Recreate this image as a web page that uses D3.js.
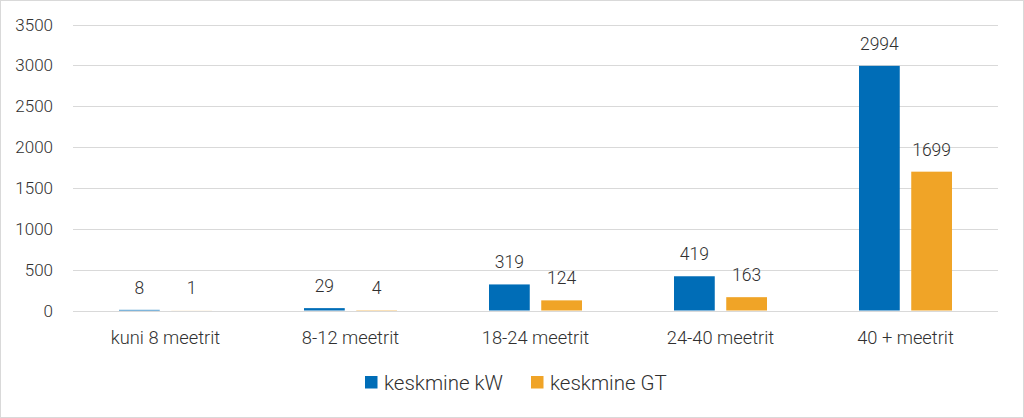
<!DOCTYPE html>
<html>
<head>
<meta charset="utf-8">
<script src="https://cdn.jsdelivr.net/npm/d3@7"></script>
<style>
  body { margin: 0; background: #fff; }
  svg text { font-family: Roboto, "Noto Sans", sans-serif; font-weight: 300; fill: #303030; }
</style>
</head>
<body>
<div id="chart"></div>
<script>
// Data
const categories = ["kuni 8 meetrit", "8-12 meetrit", "18-24 meetrit", "24-40 meetrit", "40 + meetrit"];
const seriesNames = ["keskmine kW", "keskmine GT"];
const kwValues = [8, 29, 319, 419, 2994];
const gtValues = [1, 4, 124, 163, 1699];
const yTicks = [0, 500, 1000, 1500, 2000, 2500, 3000, 3500];
const colors = ["#006db7", "#f0a427"];

const width = 1024;
const height = 418;
const margin = { top: 24.5, right: 26, bottom: 107.5, left: 73 };

const svg = d3.select("#chart")
  .append("svg")
  .attr("width", width)
  .attr("height", height);

// Chart border
svg.append("rect")
  .attr("x", 0.5).attr("y", 0.5)
  .attr("width", width - 1).attr("height", height - 1)
  .attr("fill", "#fff")
  .attr("stroke", "#d9d9d9");

const x0 = d3.scaleBand()
  .domain(categories)
  .range([margin.left, width - margin.right]);

const x1 = d3.scaleBand()
  .domain(seriesNames)
  .range([0, 93])
  .paddingInner(0.22);

const y = d3.scaleLinear()
  .domain([0, 3500])
  .range([height - margin.bottom, margin.top]);

// Gridlines
svg.append("g")
  .selectAll("line")
  .data(yTicks)
  .enter()
  .append("line")
  .attr("x1", margin.left)
  .attr("x2", width - margin.right)
  .attr("y1", (d) => Math.round(y(d)) + 0.5)
  .attr("y2", (d) => Math.round(y(d)) + 0.5)
  .attr("stroke", "#d9d9d9")
  .attr("stroke-width", 1);

// Y labels
svg.append("g")
  .selectAll("text")
  .data(yTicks)
  .enter()
  .append("text")
  .attr("x", margin.left - 20)
  .attr("y", (d) => y(d))
  .attr("text-anchor", "end")
  .attr("dominant-baseline", "central")
  .attr("font-size", "17px")
  .text((d) => d);

// Bars
const groupOffset = (x0.bandwidth() - x1.range()[1]) / 2;
const groups = svg.append("g")
  .selectAll("g")
  .data(categories)
  .enter()
  .append("g")
  .attr("transform", (d) => `translate(${x0(d) + groupOffset},0)`);

groups.selectAll("rect")
  .data((d, i) => [
    { key: seriesNames[0], value: kwValues[i], color: colors[0] },
    { key: seriesNames[1], value: gtValues[i], color: colors[1] },
  ])
  .enter()
  .append("rect")
  .attr("x", (d) => x1(d.key))
  .attr("y", (d) => y(d.value))
  .attr("width", x1.bandwidth())
  .attr("height", (d) => y(0) - y(d.value))
  .attr("fill", (d) => d.color);

// Value labels
groups.selectAll("text")
  .data((d, i) => [
    { key: seriesNames[0], value: kwValues[i] },
    { key: seriesNames[1], value: gtValues[i] },
  ])
  .enter()
  .append("text")
  .attr("x", (d) => x1(d.key) + x1.bandwidth() / 2)
  .attr("y", (d) => y(d.value) - 16)
  .attr("text-anchor", "middle")
  .attr("font-size", "17.5px")
  .text((d) => d.value);

// Category labels
svg.append("g")
  .selectAll("text")
  .data(categories)
  .enter()
  .append("text")
  .attr("x", (d) => x0(d) + x0.bandwidth() / 2)
  .attr("y", 337)
  .attr("text-anchor", "middle")
  .attr("dominant-baseline", "central")
  .attr("font-size", "18.3px")
  .text((d) => d);

// Legend
const legendItems = [
  { name: seriesNames[0], color: colors[0], x: 365 },
  { name: seriesNames[1], color: colors[1], x: 531 },
];
const legend = svg.append("g")
  .selectAll("g")
  .data(legendItems)
  .enter()
  .append("g")
  .attr("transform", (d) => `translate(${d.x},376)`);

legend.append("rect")
  .attr("width", 12.5)
  .attr("height", 12.5)
  .attr("fill", (d) => d.color);

legend.append("text")
  .attr("x", 19)
  .attr("y", 6.5)
  .attr("dominant-baseline", "central")
  .attr("font-size", "20.5px")
  .text((d) => d.name);
</script>
</body>
</html>
